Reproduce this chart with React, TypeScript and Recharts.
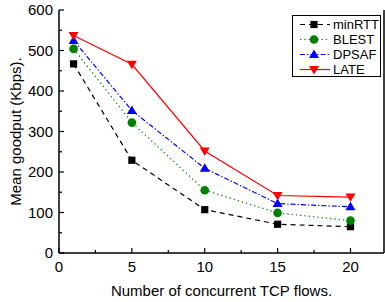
import { LineChart, Line, XAxis, YAxis, Label } from "recharts";

const flows = [1, 5, 10, 15, 20];
const minRTT = [467, 229, 107, 71, 65];
const blest = [504, 322, 155, 99, 80];
const dpsaf = [525, 352, 209, 122, 114];
const late = [537, 466, 252, 142, 138];

const xTicks = [0, 2.5, 5, 7.5, 10, 12.5, 15, 17.5, 20];
const yTicks = [0, 50, 100, 150, 200, 250, 300, 350, 400, 450, 500, 550, 600];

const data = flows.map((f, i) => ({
  flows: f,
  minRTT: minRTT[i],
  BLEST: blest[i],
  DPSAF: dpsaf[i],
  LATE: late[i],
}));

const FONT = "'Liberation Sans', Arial, sans-serif";

type Marker = "square" | "circle" | "up" | "down";

const series = [
  { key: "minRTT", color: "#000000", dash: "5 4", marker: "square" as Marker },
  { key: "BLEST", color: "#008000", dash: "1.3 3", marker: "circle" as Marker },
  { key: "DPSAF", color: "#0000ff", dash: "5 2 1.3 2", marker: "up" as Marker },
  { key: "LATE", color: "#ff0000", dash: undefined, marker: "down" as Marker },
];

function drawMarker(m: Marker, cx: number, cy: number, color: string, key?: any) {
  if (m === "square")
    return <rect key={key} x={cx - 3.6} y={cy - 3.6} width={7.2} height={7.2} fill={color} />;
  if (m === "circle") return <circle key={key} cx={cx} cy={cy} r={4.3} fill={color} />;
  if (m === "up")
    return (
      <polygon key={key} points={`${cx - 5},${cy + 3.5} ${cx + 5},${cy + 3.5} ${cx},${cy - 5}`} fill={color} />
    );
  return (
    <polygon key={key} points={`${cx - 5},${cy - 3.5} ${cx + 5},${cy - 3.5} ${cx},${cy + 5}`} fill={color} />
  );
}

const isMajor = (v: number, step: number) => Math.abs(v % step) < 1e-6;

const BottomTick = (p: any) => {
  const major = isMajor(p.payload.value, 5);
  return (
    <g>
      <line x1={p.x} x2={p.x} y1={p.y} y2={p.y - (major ? 5 : 3)} stroke="#000" strokeWidth={1.2} />
      {major && (
        <text x={p.x} y={p.y + 19} textAnchor="middle" fontSize={15} fontFamily={FONT} fill="#000">
          {p.payload.value}
        </text>
      )}
    </g>
  );
};
const TopTick = (p: any) => {
  const major = isMajor(p.payload.value, 5);
  return <line x1={p.x} x2={p.x} y1={p.y} y2={p.y + (major ? 5 : 3)} stroke="#000" strokeWidth={1.2} />;
};
const LeftTick = (p: any) => {
  const major = isMajor(p.payload.value, 100);
  return (
    <g>
      <line x1={p.x} x2={p.x + (major ? 5 : 3)} y1={p.y} y2={p.y} stroke="#000" strokeWidth={1.2} />
      {major && (
        <text x={p.x - 6} y={p.y + 5.4} textAnchor="end" fontSize={15} fontFamily={FONT} fill="#000">
          {p.payload.value}
        </text>
      )}
    </g>
  );
};
const RightTick = (p: any) => {
  const major = isMajor(p.payload.value, 100);
  return <line x1={p.x} x2={p.x - (major ? 5 : 3)} y1={p.y} y2={p.y} stroke="#000" strokeWidth={1.2} />;
};

const axisLine = { stroke: "#000", strokeWidth: 1.5 };

export default function App() {
  return (
    <div style={{ position: "relative", width: 385, height: 302, background: "#fff", overflow: "hidden" }}>
      <style>{"html,body{margin:0;padding:0;overflow:hidden}"}</style>
      <LineChart width={385} height={302} data={data} margin={{ top: 10, right: 0, bottom: 0, left: 0 }}>
        <XAxis
          dataKey="flows"
          type="number"
          domain={[0, 22.3]}
          ticks={xTicks}
          interval={0}
          height={49}
          tickSize={0}
          tickMargin={0}
          tickLine={false}
          axisLine={axisLine}
          tick={<BottomTick />}
        >
          <Label
            content={() => (
              <text x={221.5} y={296} textAnchor="middle" fontSize={15} fontFamily={FONT} fill="#000">
                Number of concurrent TCP flows.
              </text>
            )}
          />
        </XAxis>
        <XAxis
          xAxisId="top"
          orientation="top"
          type="number"
          domain={[0, 22.3]}
          ticks={xTicks}
          interval={0}
          height={0}
          tickSize={0}
          tickMargin={0}
          tickLine={false}
          axisLine={axisLine}
          tick={<TopTick />}
        />
        <YAxis
          type="number"
          domain={[0, 600]}
          ticks={yTicks}
          interval={0}
          width={59}
          tickSize={0}
          tickMargin={0}
          tickLine={false}
          axisLine={axisLine}
          tick={<LeftTick />}
        >
          <Label
            content={() => (
              <text
                x={21}
                y={131.5}
                transform="rotate(-90 21 131.5)"
                textAnchor="middle"
                fontSize={15}
                fontFamily={FONT}
                fill="#000"
              >
                Mean goodput (Kbps).
              </text>
            )}
          />
        </YAxis>
        <YAxis
          yAxisId="right"
          orientation="right"
          type="number"
          domain={[0, 600]}
          ticks={yTicks}
          interval={0}
          width={1}
          tickSize={0}
          tickMargin={0}
          tickLine={false}
          axisLine={axisLine}
          tick={<RightTick />}
        />
        {series.map((s) => (
          <Line
            key={s.key}
            dataKey={s.key}
            type="linear"
            stroke={s.color}
            strokeWidth={1.2}
            strokeDasharray={s.dash}
            isAnimationActive={false}
            activeDot={false}
            dot={(p: any) => drawMarker(s.marker, p.cx, p.cy, s.color, `${s.key}-${p.index}`)}
          />
        ))}
      </LineChart>
      <div
        style={{
          position: "absolute",
          left: 292,
          top: 15,
          width: 89,
          height: 62,
          border: "1px solid #000",
          boxSizing: "border-box",
          background: "#fff",
          fontFamily: FONT,
          fontSize: 13,
          paddingTop: 1,
        }}
      >
        {series.map((s) => (
          <div key={s.key} style={{ display: "flex", alignItems: "center", height: 15 }}>
            <svg width={40} height={15} style={{ flex: "none" }}>
              <line x1={7} x2={37} y1={7.5} y2={7.5} stroke={s.color} strokeWidth={1.2} strokeDasharray={s.dash} />
              {drawMarker(s.marker, 21, 7.5, s.color)}
            </svg>
            <span style={{ lineHeight: "15px" }}>{s.key}</span>
          </div>
        ))}
      </div>
    </div>
  );
}
